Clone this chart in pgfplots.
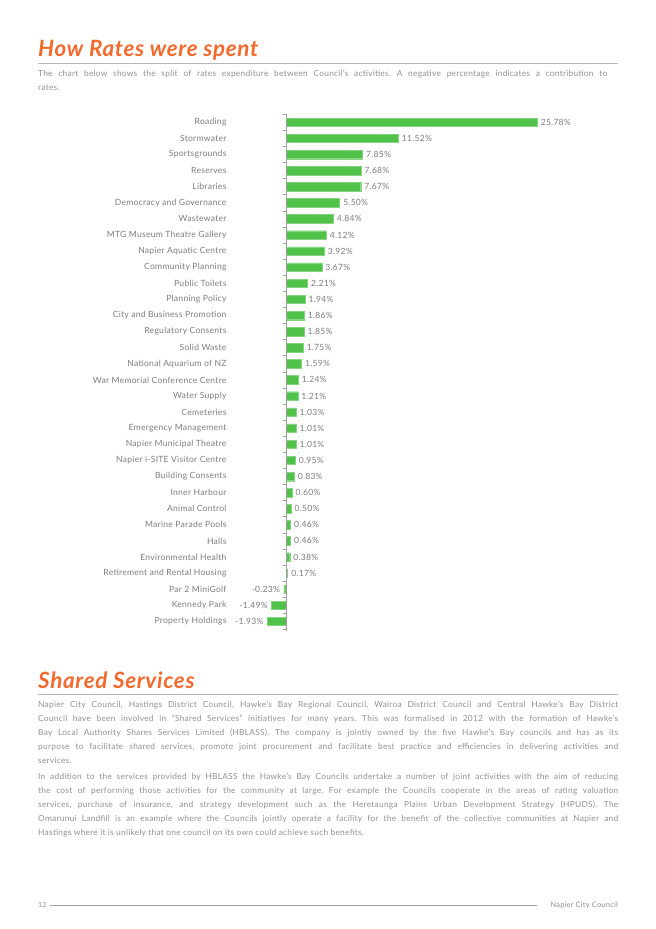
\documentclass[border=0pt]{standalone}
\usepackage{fontspec}
\setmainfont{Lato}[LetterSpace=3, Ligatures=TeX]
\usepackage{pgfplots}
\pgfplotsset{compat=1.18}
\frenchspacing

\definecolor{titleorange}{HTML}{F26A2E}
\definecolor{rulegray}{HTML}{B4B6B8}
\definecolor{bodygray}{HTML}{929292}
\definecolor{labelgray}{HTML}{7E7E7E}
\definecolor{tickgray}{HTML}{A0A0A0}
\definecolor{bargreen}{HTML}{50C24A}

\newcommand{\bodysize}{\fontsize{8.4}{14.2}\selectfont}

\begin{document}
\begin{tikzpicture}[x=1bp,y=1bp]
\path[fill=white] (0,0) rectangle (656,929);

% ---- How Rates were spent
\node[anchor=base west, inner sep=0, text=titleorange,
      font=\fontsize{22.5}{24}\selectfont\bfseries\itshape] at (38,872) {How Rates were spent};
\draw[rulegray, line width=1.8bp] (38,865.5) -- (618,865.5);
\node[anchor=north west, inner sep=0, text width=569bp, align=justify,
      font=\bodysize, text=bodygray] at (38,859.5)
  {The chart below shows the split of rates expenditure between Council's activities. A negative percentage indicates a contribution to\linebreak rates.};

% axis box: 33.75 units of 9.74bp wide, 32 rows of 16.1bp high
\begin{axis}[
    at={(230bp,814.75bp)}, anchor=north west,
    scale only axis, width=328.7bp, height=515.2bp,
    xmin=-5.75, xmax=28,
    ymin=-0.5, ymax=31.5,
    y dir=reverse,
    xbar, bar width=8.5bp,
    axis line style={draw=none},
    xtick=\empty,
    ytick={0,...,31},
    yticklabels={Roading, Stormwater, Sportsgrounds, Reserves, Libraries,
        Democracy and Governance, Wastewater, MTG Museum Theatre Gallery,
        Napier Aquatic Centre, Community Planning, Public Toilets,
        Planning Policy, City and Business Promotion, Regulatory Consents,
        Solid Waste, National Aquarium of NZ, War Memorial Conference Centre,
        Water Supply, Cemeteries, Emergency Management, Napier Municipal Theatre,
        Napier i-SITE Visitor Centre, Building Consents, Inner Harbour,
        Animal Control, Marine Parade Pools, Halls, Environmental Health,
        Retirement and Rental Housing, Par 2 MiniGolf, Kennedy Park,
        Property Holdings},
    major tick length=0pt,
    yticklabel style={font=\fontsize{8.6}{10}\selectfont, text=labelgray},
    point meta=x,
    /pgf/number format/assume math mode=true,
    nodes near coords={\pgfmathprintnumber[fixed,fixed zerofill,precision=2]{\pgfplotspointmeta}\%},
    nodes near coords style={font=\fontsize{8.6}{10}\selectfont, text=labelgray, inner sep=3.5bp},
    clip=false,
]
\addplot[fill=bargreen, draw=bargreen!70!white, line width=0.4bp] coordinates {
    (25.78,0) (11.52,1) (7.85,2) (7.68,3) (7.67,4) (5.50,5) (4.84,6) (4.12,7)
    (3.92,8) (3.67,9) (2.21,10) (1.94,11) (1.86,12) (1.85,13) (1.75,14)
    (1.59,15) (1.24,16) (1.21,17) (1.03,18) (1.01,19) (1.01,20) (0.95,21)
    (0.83,22) (0.60,23) (0.50,24) (0.46,25) (0.46,26) (0.38,27) (0.17,28)
    (-0.23,29) (-1.49,30) (-1.93,31)
};
\draw[tickgray, line width=0.5bp] (axis cs:0,-0.5) -- (axis cs:0,31.6);
\pgfplotsinvokeforeach{-0.5,0.5,...,31.5}{
    \draw[tickgray, line width=0.5bp] (axis cs:0,#1) -- (axis cs:-0.3,#1);
}
\end{axis}

% ---- Shared Services
\node[anchor=base west, inner sep=0, text=titleorange,
      font=\fontsize{22.5}{24}\selectfont\bfseries\itshape] at (38,240) {Shared Services};
\draw[rulegray, line width=1.8bp] (38,234.5) -- (618,234.5);
\node[anchor=north west, inner sep=0, text width=580bp, align=justify,
      font=\bodysize, text=bodygray] at (38,228.5)
  {Napier City Council, Hastings District Council, Hawke's Bay Regional Council, Wairoa District Council and Central Hawke's Bay District\linebreak
   Council have been involved in ``Shared Services'' initiatives for many years. This was formalised in 2012 with the formation of Hawke's\linebreak
   Bay Local Authority Shares Services Limited (HBLASS). The company is jointly owned by the five Hawke's Bay councils and has as its\linebreak
   purpose to facilitate shared services, promote joint procurement and facilitate best practice and efficiencies in delivering activities and\linebreak
   services.};
\node[anchor=north west, inner sep=0, text width=580bp, align=justify,
      font=\bodysize, text=bodygray] at (38,156.5)
  {In addition to the services provided by HBLASS the Hawke's Bay Councils undertake a number of joint activities with the aim of reducing\linebreak
   the cost of performing those activities for the community at large. For example the Councils cooperate in the areas of rating valuation\linebreak
   services, purchase of insurance, and strategy development such as the Heretaunga Plains Urban Development Strategy (HPUDS). The\linebreak
   Omarunui Landfill is an example where the Councils jointly operate a facility for the benefit of the collective communities at Napier and\linebreak
   Hastings where it is unlikely that one council on its own could achieve such benefits.};

% ---- footer
\node[anchor=base west, inner sep=0, text=bodygray, font=\fontsize{7}{8}\selectfont] at (38,21.5) {12};
\draw[tickgray, line width=0.8bp] (50,24) -- (537,24);
\node[anchor=base east, inner sep=0, text=bodygray, font=\fontsize{7.5}{8}\selectfont] at (618,21.5) {Napier City Council};
\end{tikzpicture}
\end{document}
